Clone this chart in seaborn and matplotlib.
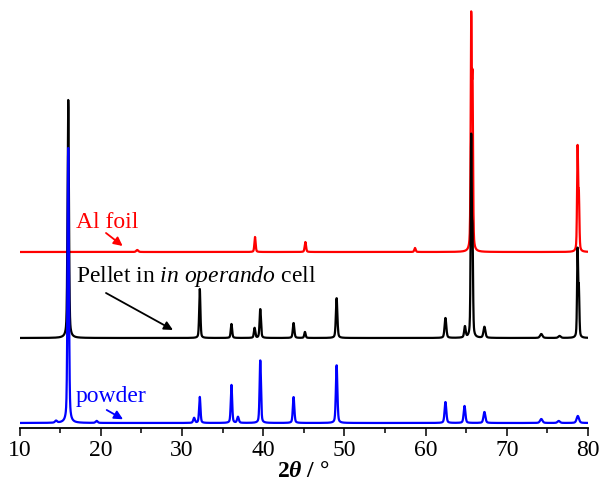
import numpy as np
import pandas as pd
import matplotlib
matplotlib.use("Agg")
import matplotlib.pyplot as plt
import seaborn as sns

# ---- data (2theta in degrees, intensities in a.u.) ----
two_theta = np.round(np.arange(10.0, 80.0001, 0.02), 2)

powder_pos = [14.5, 16.0, 19.5, 31.5, 32.2, 36.1, 36.9, 39.65, 43.75, 49.05, 62.45, 64.8, 67.25, 74.25, 76.4, 78.75]
powder_amp = [2, 275, 2, 5, 26, 38, 6, 63, 26, 58, 21, 17, 11, 4, 2, 7]
powder_fwhm = [0.3, 0.2, 0.3, 0.25, 0.2, 0.2, 0.25, 0.2, 0.22, 0.22, 0.25, 0.25, 0.28, 0.35, 0.35, 0.35]
powder_offset = 4.7

pellet_pos = [16.0, 32.2, 36.1, 38.95, 39.65, 43.75, 45.15, 49.05, 62.45, 64.85, 65.62, 65.78, 67.25, 74.25, 76.5, 78.72, 78.88]
pellet_amp = [238, 49, 14, 10, 29, 15, 6, 40, 20, 11, 195, 95, 11, 4, 2, 86, 45]
pellet_fwhm = [0.2, 0.18, 0.2, 0.2, 0.2, 0.22, 0.2, 0.22, 0.25, 0.22, 0.15, 0.15, 0.28, 0.35, 0.35, 0.15, 0.15]
pellet_offset = 89.7

foil_pos = [24.5, 39.0, 45.2, 58.7, 65.62, 65.78, 78.72, 78.88]
foil_amp = [2, 15, 10, 4, 225, 160, 102, 52]
foil_fwhm = [0.3, 0.18, 0.2, 0.2, 0.15, 0.15, 0.15, 0.15]
foil_offset = 175.7

lorentz_fraction = 0.4

xticks = [10, 20, 30, 40, 50, 60, 70, 80]
minor_xticks = [15, 25, 35, 45, 55, 65, 75]


def pattern(pos, amp, fwhm, offset):
    y = np.full_like(two_theta, offset, dtype=float)
    for p, a, w in zip(pos, amp, fwhm):
        d = (two_theta - p) / (w / 2.0)
        lor = 1.0 / (1.0 + d ** 2)
        gau = np.exp(-np.log(2.0) * d ** 2)
        y += a * (lorentz_fraction * lor + (1 - lorentz_fraction) * gau)
    return y


df = pd.concat([
    pd.DataFrame({"2theta": two_theta, "I": pattern(foil_pos, foil_amp, foil_fwhm, foil_offset), "sample": "Al foil"}),
    pd.DataFrame({"2theta": two_theta, "I": pattern(pellet_pos, pellet_amp, pellet_fwhm, pellet_offset), "sample": "pellet"}),
    pd.DataFrame({"2theta": two_theta, "I": pattern(powder_pos, powder_amp, powder_fwhm, powder_offset), "sample": "powder"}),
])

sns.set_theme(style="ticks")
plt.rcParams["font.family"] = ["Liberation Serif", "DejaVu Serif"]
plt.rcParams["mathtext.fontset"] = "custom"
plt.rcParams["mathtext.rm"] = "Liberation Serif:bold"
plt.rcParams["mathtext.it"] = "Liberation Serif:italic"
plt.rcParams["mathtext.bf"] = "Liberation Serif:bold"
plt.rcParams["mathtext.bfit"] = "Liberation Serif:italic:bold"
plt.rcParams["text.color"] = "black"
plt.rcParams["axes.labelcolor"] = "black"
plt.rcParams["xtick.color"] = "black"

fig = plt.figure(figsize=(6.02, 4.82), dpi=100)
ax = fig.add_axes([0.0324, 0.1127, 0.9443, 0.8873])

colors = {"Al foil": "#ff0000", "pellet": "#000000", "powder": "#0000ff"}
for name in ["Al foil", "pellet", "powder"]:
    sns.lineplot(data=df[df["sample"] == name], x="2theta", y="I", color=colors[name],
                 lw=1.6, estimator=None, sort=False, ax=ax)

ax.set_xlim(10, 80)
ax.set_ylim(0, 427.7)
ax.set_xticks(xticks)
ax.set_xticks(minor_xticks, minor=True)
ax.set_yticks([])
ax.set_ylabel("")
ax.set_xlabel(r"$\mathbf{2}\mathbfit{\theta}$ / °", fontsize=17, fontweight="bold", labelpad=0, color="black")
ax.tick_params(axis="x", which="major", direction="out", length=6, width=1.1, labelsize=17, pad=3,
               color="black", labelcolor="black")
ax.tick_params(axis="x", which="minor", direction="out", length=3.5, width=1.1, color="black")
sns.despine(ax=ax, left=True, top=True, right=True)
ax.spines["bottom"].set_linewidth(1.3)
ax.spines["bottom"].set_color("black")

fs = 17
ax.text(16.95, 199.5, "Al foil", color="red", fontsize=fs)
ax.annotate("", xy=(22.7, 181.7), xytext=(20.65, 194.7),
            arrowprops=dict(arrowstyle="-|>", color="red", lw=1.3, mutation_scale=13, shrinkA=0, shrinkB=0))
ax.text(16.95, 146.0, r"Pellet in $\mathit{in\ operando}$ cell", color="black", fontsize=fs)
ax.annotate("", xy=(28.9, 97.7), xytext=(20.65, 134.7),
            arrowprops=dict(arrowstyle="-|>", color="black", lw=1.3, mutation_scale=13, shrinkA=0, shrinkB=0))
ax.text(16.95, 26.0, "powder", color="blue", fontsize=fs)
ax.annotate("", xy=(22.75, 8.4), xytext=(20.74, 17.7),
            arrowprops=dict(arrowstyle="-|>", color="blue", lw=1.3, mutation_scale=13, shrinkA=0, shrinkB=0))

fig.savefig("out.png", dpi=100)
